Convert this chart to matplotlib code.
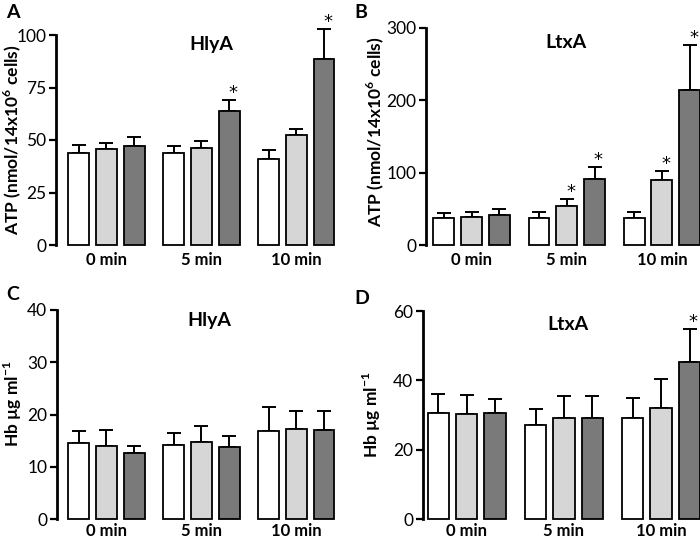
import matplotlib
matplotlib.use("Agg")
import matplotlib.pyplot as plt
import numpy as np

plt.rcParams['font.family'] = ['Lato', 'DejaVu Sans']
plt.rcParams['mathtext.fontset'] = 'custom'
plt.rcParams['mathtext.rm'] = 'Lato'
plt.rcParams['mathtext.bf'] = 'Lato:bold'

groups = ["0 min", "5 min", "10 min"]
colors = ["white", "#d6d6d6", "#7a7a7a"]

# A: HlyA ATP
atp_hly = [[43.8, 45.7, 47.3], [43.7, 46.2, 63.6], [40.9, 52.2, 88.7]]
atp_hly_err = [[4.0, 3.0, 4.3], [3.6, 3.5, 5.5], [4.2, 3.0, 14.1]]
atp_hly_sig = [[0, 0, 0], [0, 0, 1], [0, 0, 1]]

# B: LtxA ATP
atp_ltx = [[37.8, 38.8, 41.5], [37.8, 54.5, 90.9], [36.9, 90.0, 214.6]]
atp_ltx_err = [[6.0, 6.4, 7.9], [7.4, 8.7, 17.5], [8.3, 12.4, 62.3]]
atp_ltx_sig = [[0, 0, 0], [0, 1, 1], [0, 1, 1]]

# C: HlyA Hb
hb_hly = [[14.5, 14.0, 12.6], [14.1, 14.8, 13.8], [16.9, 17.2, 17.1]]
hb_hly_err = [[2.4, 3.1, 1.4], [2.3, 3.0, 2.0], [4.5, 3.4, 3.5]]
hb_hly_sig = [[0, 0, 0], [0, 0, 0], [0, 0, 0]]

# D: LtxA Hb
hb_ltx = [[30.7, 30.4, 30.5], [27.0, 29.2, 29.2], [29.2, 32.1, 45.3]]
hb_ltx_err = [[5.3, 5.4, 4.2], [4.6, 6.4, 6.3], [5.6, 8.4, 9.5]]
hb_ltx_sig = [[0, 0, 0], [0, 0, 0], [0, 0, 1]]

fig = plt.figure(figsize=(7, 5.4), dpi=100)

W, H = 700.0, 540.0


def make_ax(left, right, top, bottom):
    return fig.add_axes([left / W, 1 - bottom / H, (right - left) / W, (bottom - top) / H])


def panel(ax, vals, errs, sig, ymax, ystep, xlim, title, title_xy, xpad):
    pitch = 0.292
    width = 0.22
    for g in range(3):
        for k in range(3):
            x = g + (k - 1) * pitch
            v = vals[g][k]
            e = errs[g][k]
            ax.bar(x, v, width=width, color=colors[k], edgecolor="black",
                   linewidth=1.3, clip_on=False, zorder=2)
            ax.errorbar(x, v, yerr=[[0], [e]], fmt="none", ecolor="black",
                        elinewidth=1.4, capsize=5, capthick=1.4, clip_on=False, zorder=1)
            if sig[g][k]:
                ax.text(x + 0.04, v + e - ymax * 0.01, "*", ha="center", va="bottom",
                        fontsize=13, family="DejaVu Sans", clip_on=False)
    ax.set_xlim(*xlim)
    ax.set_ylim(0, ymax)
    ax.set_yticks(np.arange(0, ymax + 1, ystep))
    ax.set_xticks(range(3))
    ax.set_xticklabels(groups, fontsize=12, fontweight="bold")
    ax.tick_params(axis="x", length=0, pad=xpad)
    ax.tick_params(axis="y", direction="out", length=5, width=1.6, labelsize=12.5, pad=2)
    for s in ["top", "right", "bottom"]:
        ax.spines[s].set_visible(False)
    ax.spines["left"].set_linewidth(2)
    ax.patch.set_alpha(0)
    ax.text(title_xy[0], title_xy[1], title, ha="center", va="center",
            fontsize=14, fontweight="bold")


axA = make_ax(56, 340, 35, 245)
panel(axA, atp_hly, atp_hly_err, atp_hly_sig, 100, 25, (-0.53, 2.46),
      "HlyA", (1.1, 95.5), 5)

axB = make_ax(426, 700, 28, 245)
panel(axB, atp_ltx, atp_ltx_err, atp_ltx_sig, 300, 100, (-0.48, 2.4),
      "LtxA", (0.99, 280), 5)

axC = make_ax(57, 340, 310, 519)
panel(axC, hb_hly, hb_hly_err, hb_hly_sig, 40, 10, (-0.52, 2.46),
      "HlyA", (1.08, 38), 3)

axD = make_ax(423, 700, 311, 519)
panel(axD, hb_ltx, hb_ltx_err, hb_ltx_sig, 60, 20, (-0.45, 2.4),
      "LtxA", (1.04, 56), 3)

atp_label = "ATP (nmol/14x10$^{\\mathbf{6}}$ cells)"
hb_label = "Hb µg ml$^{\\mathbf{-1}}$"
for lbl, x, y in [(atp_label, 12, 140), (atp_label, 375, 132), (hb_label, 13, 404), (hb_label, 372, 415)]:
    fig.text(x / W, 1 - y / H, lbl, fontsize=12.5, fontweight="bold", rotation=90,
             ha="center", va="center")

for lbl, x, y in [("A", 6, 12), ("B", 354, 12), ("C", 6, 295), ("D", 354, 298)]:
    fig.text(x / W, 1 - y / H, lbl, fontsize=14, fontweight="bold", va="center")

fig.savefig("out.png", dpi=100)
